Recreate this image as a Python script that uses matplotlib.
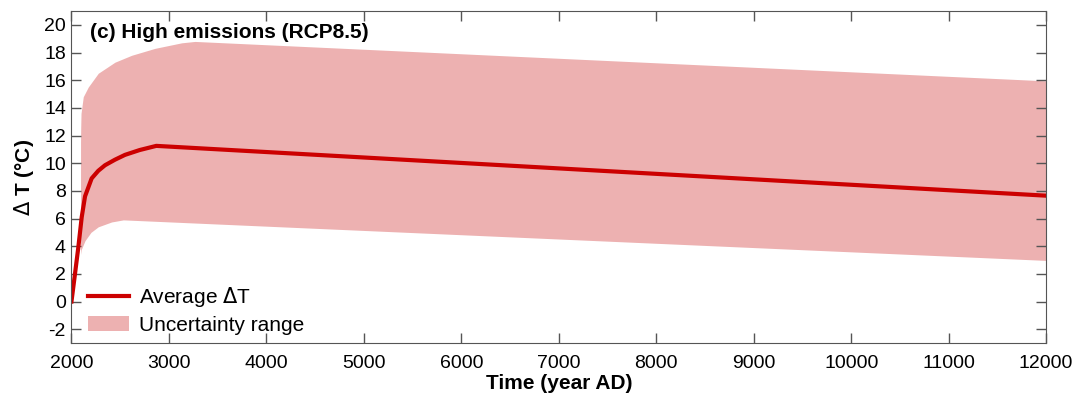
import numpy as np
import matplotlib.pyplot as plt

plt.rcParams['font.family'] = ['Liberation Sans', 'DejaVu Sans']
plt.rcParams['axes.unicode_minus'] = False

# average warming (year, deg C)
mean_years = [2000, 2036, 2070, 2105, 2139, 2207, 2275, 2344, 2446, 2549, 2700, 2870, 12000]
mean_dT = [0.0, 2.0, 3.9, 6.1, 7.6, 8.9, 9.45, 9.85, 10.25, 10.6, 10.95, 11.25, 7.65]

# uncertainty range
upper_years = [2093, 2095, 2098, 2121, 2172, 2275, 2446, 2618, 2857, 3131, 3267, 12000]
upper_dT = [11.5, 12.6, 13.6, 14.8, 15.5, 16.5, 17.3, 17.8, 18.3, 18.7, 18.8, 15.95]
lower_years = [2093, 2100, 2139, 2200, 2275, 2412, 2532, 12000]
lower_dT = [3.4, 3.75, 4.4, 5.0, 5.4, 5.75, 5.9, 2.97]

line_color = '#CC0000'
fill_color = '#EDB1B1'

fig = plt.figure(figsize=(10.83, 4.0), dpi=100)
ax = fig.add_axes([0.066, 0.1425, 0.9, 0.83])

# put both band edges on a common grid
band_x = np.union1d(upper_years, lower_years)
band_hi = np.interp(band_x, upper_years, upper_dT)
band_lo = np.interp(band_x, lower_years, lower_dT)
ax.fill_between(band_x, band_lo, band_hi, color=fill_color, lw=0,
                label='Uncertainty range')
ax.plot(mean_years, mean_dT, color=line_color, lw=3, label='Average $\\Delta$T',
        solid_joinstyle='round')

ax.set_xlim(2000, 12000)
ax.set_ylim(-3, 21)
ax.set_xticks(np.arange(2000, 12001, 1000))
ax.set_yticks(np.arange(-2, 21, 2))
ax.tick_params(direction='in', length=7, width=1, top=True, right=True,
               labelsize=14, color='#555555')
ax.tick_params(axis='x', pad=9)
ax.tick_params(axis='y', pad=4)
for s in ax.spines.values():
    s.set_color('#555555')

ax.set_xlabel('Time (year AD)', fontsize=15, fontweight='bold', labelpad=1)
ax.set_ylabel('$\\Delta$ T (°C)', fontsize=15, fontweight='bold', labelpad=6)
ax.text(0.019, 0.965, '(c) High emissions (RCP8.5)', transform=ax.transAxes,
        fontsize=15, fontweight='bold', va='top', ha='left')

h, l = ax.get_legend_handles_labels()
ax.legend(h[::-1], l[::-1], loc='lower left', frameon=False, fontsize=15,
          handlelength=2.0, handletextpad=0.45, borderaxespad=0.0,
          labelspacing=0.3, bbox_to_anchor=(0.008, 0.0))

fig.savefig('out.png', dpi=100)
